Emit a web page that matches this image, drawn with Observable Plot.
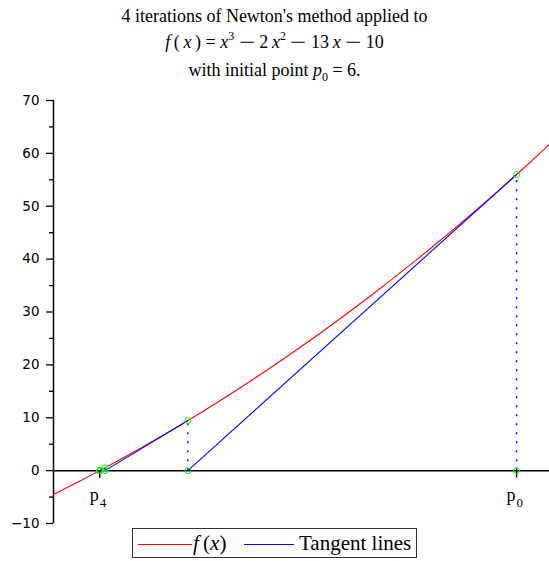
<!DOCTYPE html>
<html>
<head>
<meta charset="utf-8">
<script src="https://cdn.jsdelivr.net/npm/d3@7"></script>
<script src="https://cdn.jsdelivr.net/npm/@observablehq/plot@0.6"></script>
<style>
  body { margin: 0; background: #fff; }
  #wrap { position: relative; width: 549px; height: 561px; overflow: hidden; font-family: "Liberation Serif", "Times New Roman", serif; }
  #title { position: absolute; left: 0; top: 3px; width: 549px; text-align: center; font-size: 18px; line-height: 26px; color: #000; }
  #title .sup { font-size: 12px; position: relative; top: -8px; }
  #title .sub { font-size: 12px; position: relative; top: 5px; }
  #title .op { display: inline-block; margin: 0 3px; transform: scaleX(1.6); }
  #chart { position: absolute; left: 0; top: 80px; }
  #legend { position: absolute; left: 132px; top: 528px; width: 285px; height: 30px; border: 1px solid #333; box-sizing: border-box; font-size: 21px; }
  #legend .ln { position: absolute; top: 15px; height: 0; border-top: 1px solid; }
  #legend .tx { position: absolute; top: 1px; line-height: 26px; white-space: nowrap; }
</style>
</head>
<body>
<div id="wrap">
  <div id="title">
    <div>4 iterations of Newton's method applied to</div>
    <div><i>f</i>&thinsp;(&thinsp;<i>x</i>&thinsp;) = <i>x</i><span class="sup">3</span> <span class="op">−</span> 2&thinsp;<i>x</i><span class="sup">2</span> <span class="op">−</span> 13&thinsp;<i>x</i> <span class="op">−</span> 10</div>
    <div>with initial point <i>p</i><span class="sub">0</span> = 6.</div>
  </div>
  <div id="chart"></div>
  <div id="legend">
    <span class="ln" style="left:5px;width:54px;border-color:#ff0000"></span>
    <span class="tx" style="left:60px"><i>f</i>&thinsp;(<i>x</i>)</span>
    <span class="ln" style="left:111px;width:50px;border-color:#0000ff"></span>
    <span class="tx" style="left:166px">Tangent lines</span>
  </div>
</div>
<script>
// ---- data ----
const xDomain = [4.889, 6.079];
const yDomain = [-10, 70];
const yTicks = [-10, 0, 10, 20, 30, 40, 50, 60, 70];
const yMinorTicks = [-5, 5, 15, 25, 35, 45, 55, 65];
// sampled curve f(x) = x^3 - 2x^2 - 13x - 10
const curveX = [4.889, 4.95, 5.0, 5.05, 5.1, 5.15, 5.2, 5.25, 5.3, 5.35, 5.4, 5.45, 5.5, 5.55, 5.6, 5.65, 5.7, 5.75, 5.8, 5.85, 5.9, 5.95, 6.0, 6.05, 6.079];
const curveY = [-4.50, -2.068, 0, 2.133, 4.331, 6.596, 8.928, 11.328, 13.797, 16.335, 18.944, 21.624, 24.375, 27.199, 30.096, 33.067, 36.113, 39.234, 42.432, 45.707, 49.059, 52.490, 56.0, 59.590, 61.75];
// Newton iterates p0..p4 and f(p_i)
const iterX = [6, 5.21127, 5.01258, 5.00005, 5.0];
const iterY = [56, 9.4629, 0.5304, 0.0021, 0.0];
// x-axis tick labels
const xTicks = [5.0, 6];
const xTickNames = ["p", "p"];
const xTickSubs = ["4", "0"];

// ---- derived tables ----
const curve = curveX.map((x, i) => ({x, y: curveY[i]}));
const tangents = iterX.slice(0, -1).map((x, i) => ({x1: x, y1: iterY[i], x2: iterX[i + 1], y2: 0}));
const verticals = iterX.map((x, i) => ({x, y: iterY[i]}));
const greenPts = [
  ...iterX.map((x, i) => ({x, y: iterY[i]})),
  ...iterX.map((x) => ({x, y: 0}))
];
const tickData = xTicks.map((x, i) => ({x, name: xTickNames[i], sub: xTickSubs[i]}));

const tickSymbol = {
  draw(context) { context.moveTo(0, 0); context.lineTo(0, 7); }
};

const plot = Plot.plot({
  width: 549,
  height: 449,
  marginLeft: 53,
  marginRight: 0,
  marginTop: 20,
  marginBottom: 6,
  style: {fontFamily: "DejaVu Sans, sans-serif", fontSize: "13.5px", color: "#000", background: "transparent", overflow: "visible"},
  x: {domain: xDomain, axis: null},
  y: {domain: yDomain, axis: null},
  marks: [
    Plot.axisY(yTicks, {tickSize: 7, tickPadding: 7, fontSize: 13.5, stroke: "#000", strokeWidth: 1.3}),
    Plot.axisY(yMinorTicks, {tickSize: 4, tickFormat: () => "", stroke: "#000", strokeWidth: 1.3}),
    Plot.ruleX([xDomain[0]], {y1: yDomain[0], y2: yDomain[1], stroke: "#000", strokeWidth: 1.5}),
    Plot.ruleY([0], {stroke: "#000", strokeWidth: 1.5}),
    Plot.dot(tickData, {x: "x", y: 0, symbol: tickSymbol, stroke: "#000", strokeWidth: 1.5, fill: "none"}),
    Plot.text(tickData, {x: "x", y: 0, text: "name", textAnchor: "end", lineAnchor: "bottom", dx: -1, dy: 30, fontFamily: "Liberation Serif, serif", fontSize: 18}),
    Plot.text(tickData, {x: "x", y: 0, text: "sub", textAnchor: "start", lineAnchor: "bottom", dx: 0, dy: 36, fontFamily: "Liberation Serif, serif", fontSize: 13}),
    Plot.line(curve, {x: "x", y: "y", stroke: "#ff0000", strokeWidth: 1.1}),
    Plot.link(tangents, {x1: "x1", y1: "y1", x2: "x2", y2: "y2", stroke: "#0000ff", strokeWidth: 1.1}),
    Plot.ruleX(verticals, {x: "x", y1: 0, y2: "y", stroke: "#0000ff", strokeWidth: 1.5, strokeDasharray: "2,7"}),
    Plot.dot(greenPts, {x: "x", y: "y", r: 3, stroke: "#00ff00", strokeWidth: 1, fill: "none"})
  ]
});
document.getElementById("chart").appendChild(plot);
</script>
</body>
</html>
